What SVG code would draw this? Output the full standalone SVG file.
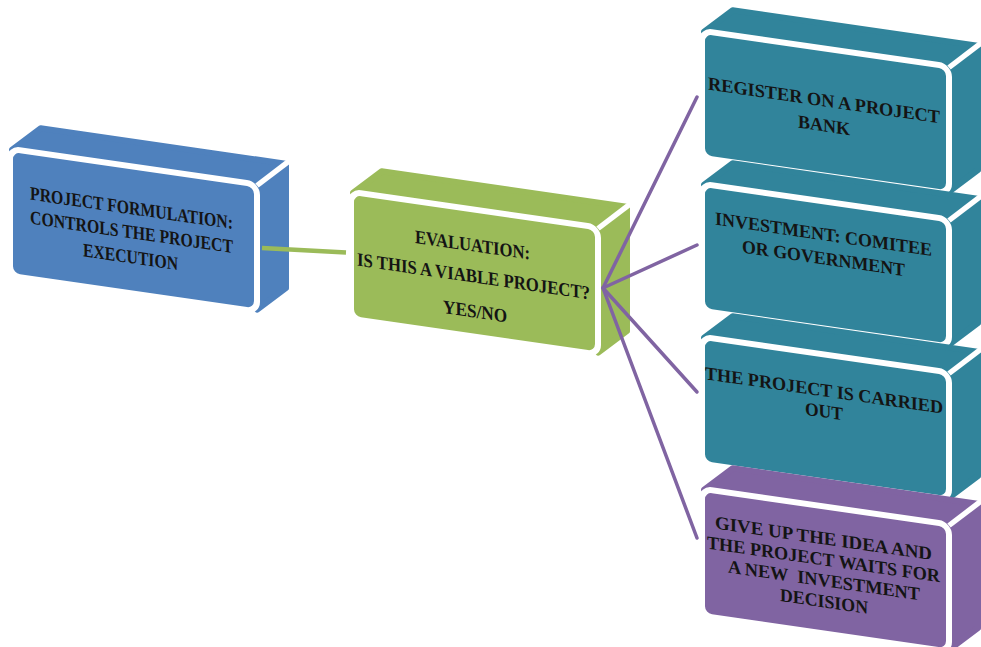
<svg xmlns="http://www.w3.org/2000/svg" width="981" height="647" viewBox="0 0 981 647">
  <style>
    .back { stroke-width: 6; stroke-linejoin: round; }
    .sep { stroke: #ffffff; stroke-width: 5; }
    .blue { fill: #4f81bd; stroke: #4f81bd; }
    .green { fill: #9bbb59; stroke: #9bbb59; }
    .teal { fill: #31849b; stroke: #31849b; }
    .purple { fill: #8064a2; stroke: #8064a2; }
    .front.blue, .front.green, .front.teal, .front.purple { stroke: #ffffff; stroke-width: 6; }
    .lbl { font-family: "Liberation Serif", "DejaVu Serif", serif; font-weight: bold; fill: #141414; text-anchor: middle; }
    .lbl-a { font-size: 19px; }
    .lbl-b { font-size: 18.5px; }
    .link-green { stroke: #9bbb59; stroke-width: 4.5; fill: none; }
    .link-purple { stroke: #8064a2; stroke-width: 3.5; fill: none; stroke-linecap: round; }
  </style>
  <defs>
    <!-- top + side faces of a block, drawn in the block's skewed frame -->
    <path id="block-back" d="M0,0 L29,-26 L274,-26 L274,98 L245,124 L245,0 Z"/>
    <!-- front face of a block; the white stroke opens the gap to the top and side faces -->
    <rect id="block-front" x="-2" y="-1" width="247" height="127" rx="10"/>
    <!-- white crease between the top face and the side face -->
    <line id="block-crease" x1="245" y1="0" x2="277" y2="-29"/>
  </defs>

  <rect width="981" height="647" fill="#ffffff"/>

  <g id="nodes">
    <g id="node-formulation" transform="translate(12,150) skewY(8.25)">
      <use href="#block-back" class="back blue"/>
      <use href="#block-crease" class="sep"/>
      <use href="#block-front" class="front blue"/>
      <text class="lbl lbl-a" x="119.5" y="47" textLength="203" lengthAdjust="spacingAndGlyphs">PROJECT FORMULATION:</text>
      <text class="lbl lbl-a" x="119.5" y="71" textLength="203" lengthAdjust="spacingAndGlyphs">CONTROLS THE PROJECT</text>
      <text class="lbl lbl-a" x="118.5" y="96" textLength="95" lengthAdjust="spacingAndGlyphs">EXECUTION</text>
    </g>

    <g id="node-evaluation" transform="translate(353,193) skewY(8.25)">
      <use href="#block-back" class="back green"/>
      <use href="#block-crease" class="sep"/>
      <use href="#block-front" class="front green"/>
      <text class="lbl lbl-a" x="119.5" y="41" textLength="115" lengthAdjust="spacingAndGlyphs">EVALUATION:</text>
      <text class="lbl lbl-a" x="120.5" y="72" textLength="233" lengthAdjust="spacingAndGlyphs">IS THIS A VIABLE PROJECT?</text>
      <text class="lbl lbl-a" x="122" y="107" textLength="64" lengthAdjust="spacingAndGlyphs">YES/NO</text>
    </g>

    <g id="node-register" transform="translate(704,32) skewY(8.25)">
      <use href="#block-back" class="back teal"/>
      <use href="#block-crease" class="sep"/>
      <use href="#block-front" class="front teal"/>
      <text class="lbl lbl-b" x="120" y="57" textLength="232" lengthAdjust="spacingAndGlyphs">REGISTER ON A PROJECT</text>
      <text class="lbl lbl-b" x="120" y="82" textLength="52" lengthAdjust="spacingAndGlyphs">BANK</text>
    </g>

    <g id="node-investment" transform="translate(704,185) skewY(8.25)">
      <use href="#block-back" class="back teal"/>
      <use href="#block-crease" class="sep"/>
      <use href="#block-front" class="front teal"/>
      <text class="lbl lbl-b" x="119.5" y="38" textLength="217" lengthAdjust="spacingAndGlyphs">INVESTMENT: COMITEE</text>
      <text class="lbl lbl-b" x="119.5" y="62" textLength="163" lengthAdjust="spacingAndGlyphs">OR GOVERNMENT</text>
    </g>

    <g id="node-carried-out" transform="translate(704,338) skewY(8.25)">
      <use href="#block-back" class="back teal"/>
      <use href="#block-crease" class="sep"/>
      <use href="#block-front" class="front teal"/>
      <text class="lbl lbl-b" x="120" y="41" textLength="238" lengthAdjust="spacingAndGlyphs">THE PROJECT IS CARRIED</text>
      <text class="lbl lbl-b" x="120" y="62" textLength="38" lengthAdjust="spacingAndGlyphs">OUT</text>
    </g>

    <g id="node-give-up" transform="translate(704,490) skewY(8.25)">
      <use href="#block-back" class="back purple"/>
      <use href="#block-crease" class="sep"/>
      <use href="#block-front" class="front purple"/>
      <text class="lbl lbl-b" x="119.5" y="37" textLength="217" lengthAdjust="spacingAndGlyphs">GIVE UP THE IDEA AND</text>
      <text class="lbl lbl-b" x="119.5" y="58" textLength="233" lengthAdjust="spacingAndGlyphs">THE PROJECT WAITS FOR</text>
      <text class="lbl lbl-b" x="120" y="79" textLength="192" lengthAdjust="spacingAndGlyphs" xml:space="preserve">A NEW  INVESTMENT</text>
      <text class="lbl lbl-b" x="120" y="100" textLength="88" lengthAdjust="spacingAndGlyphs">DECISION</text>
    </g>
  </g>

  <g id="connectors">
    <line class="link-green" x1="262" y1="248" x2="346" y2="252.5"/>
    <line class="link-purple" x1="603" y1="288" x2="697" y2="97"/>
    <line class="link-purple" x1="603" y1="288" x2="697" y2="245"/>
    <line class="link-purple" x1="603" y1="288" x2="697" y2="392"/>
    <line class="link-purple" x1="603" y1="288" x2="697" y2="538"/>
  </g>
</svg>
